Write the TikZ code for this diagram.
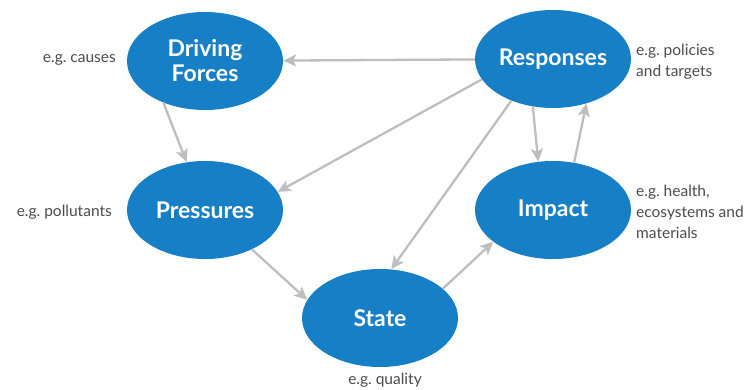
\documentclass[tikz,border=0pt]{standalone}
\usepackage{fontspec}
\setmainfont{Lato}
\usetikzlibrary{shapes.geometric,arrows.meta}
\usetikzlibrary{positioning}
\definecolor{dpsirblue}{RGB}{22,127,197}
\definecolor{arrowgray}{RGB}{190,190,190}
\definecolor{notegray}{RGB}{75,75,75}

\begin{document}
\begin{tikzpicture}[x=1pt,y=-1pt]
% define node types
\tikzstyle{stage}=[ellipse, fill=dpsirblue, text=white, inner sep=0pt,
    minimum width=156pt, minimum height=98pt, align=center,
    font=\fontsize{23}{25}\selectfont\bfseries]
\tikzstyle{note}=[text=notegray, inner sep=0pt,
    font=\fontsize{15.5}{21}\selectfont\frenchspacing]
\tikzstyle{a}=[line width=2.3pt, draw=arrowgray,
    -{Stealth[length=13pt,width=12pt,inset=3pt]}]
\useasboundingbox (0,0) rectangle (747,389);
% stages
\node[stage] (drive) at (205,61) {Driving\\Forces};
\node[stage] (resp) at (553,59) {Responses};
\node[stage] (press) at (205,210) {Pressures};
\node[stage] (impact) at (553,210) {Impact};
\node[stage] (state) at (380,318) {State};
% notes
\node[note, anchor=east] (ndrive) at (116,60) {e.g. causes};
\node[note, anchor=east] (npress) at (112,212) {e.g. pollutants};
\node[note, anchor=west, align=left] (nresp) at (636,62) {e.g. policies\\and targets};
\node[note, anchor=west, align=left] (nimpact) at (636,212) {e.g. health,\\ecosystems and\\materials};
\node[note] (nstate) at (385,380) {e.g. quality};
% links
\draw[a] (resp) -- (drive);
\draw[a] (drive.225) -- (press.111);
\draw[a] (resp.196) -- (press.14);
\draw[a] (resp.225) -- (state.77);
\draw[a] (resp.247) -- (impact.107);
\draw[a] (impact.66) -- (resp.307);
\draw[a] (press.320) -- (state.166);
\draw[a] (state.25) -- (impact.208);
\end{tikzpicture}
\end{document}
